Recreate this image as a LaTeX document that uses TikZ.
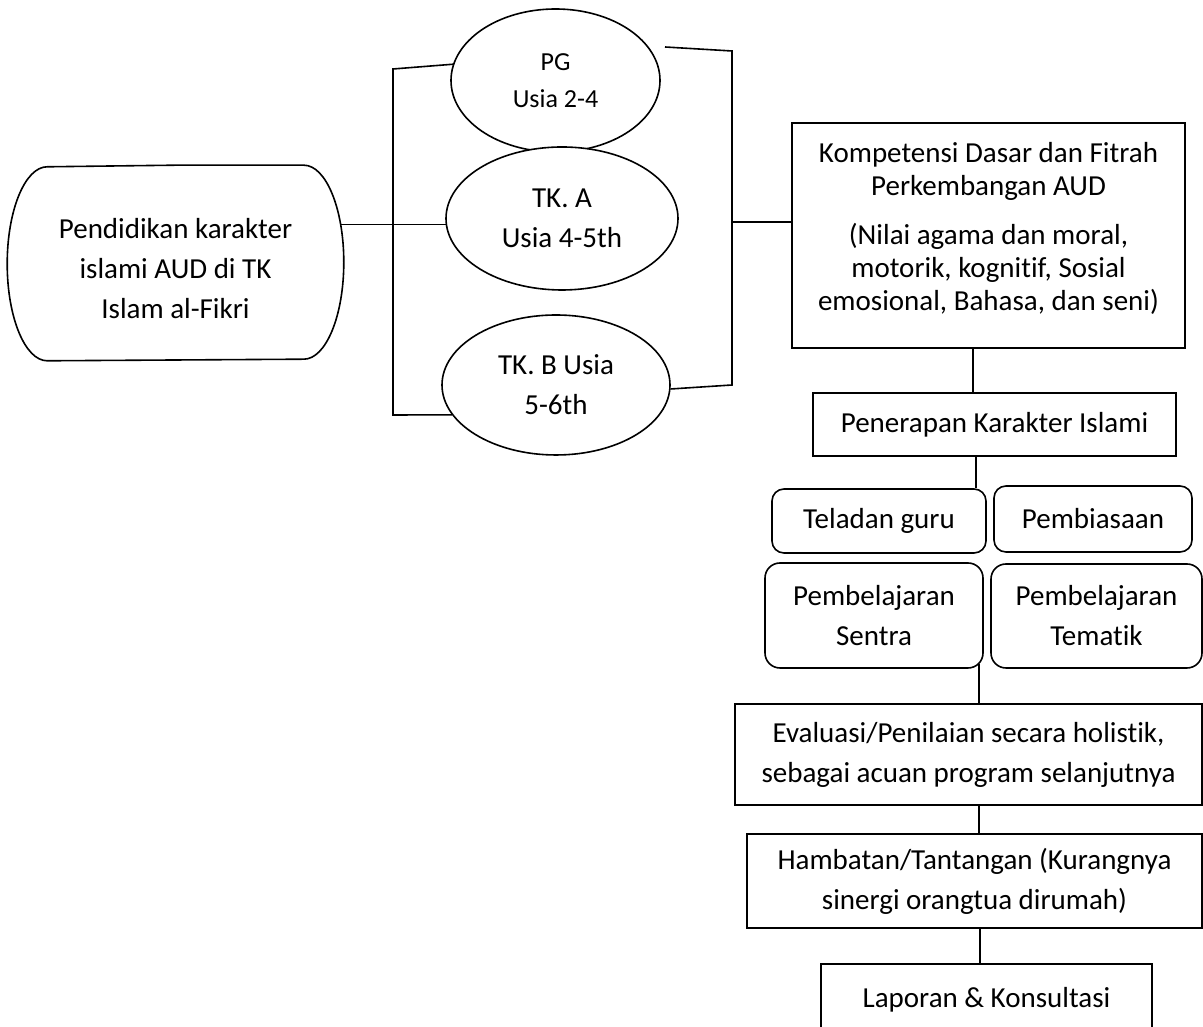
\documentclass[tikz,border=0pt]{standalone}
\usepackage{fontspec}
\setmainfont{Carlito}[Ligatures=NoCommon]
\usetikzlibrary{shapes.geometric}

\begin{document}
\begin{tikzpicture}[
  x=1pt, y=1pt,
  line width=1.6pt,
  txt/.style={font=\fontsize{29}{40}\selectfont, align=center, inner sep=0pt},
  box/.style={txt, rectangle, draw, fill=white},
  rbox/.style={box, rounded corners=12pt},
  oval/.style={txt, ellipse, draw, fill=white}
]
  \clip (0,0) rectangle (1203,1027);

  % main topic on the left
  \node[txt, minimum width=335, minimum height=194] (stem) at (175.5,764) {\rule{0pt}{31pt}Pendidikan karakter\\islami AUD di TK\\Islam al-Fikri};
  \draw (stem.north) -- ([xshift=-40]stem.north east)
    arc[start angle=90, end angle=-90, x radius=40, y radius=97]
    -- ([xshift=40]stem.south west)
    arc[start angle=270, end angle=90, x radius=40, y radius=97] -- cycle;

  % age groups
  \node[oval, font=\fontsize{26}{37}\selectfont, minimum width=209, minimum height=143] (pg) at (555.5,946.5) {PG\\Usia 2-4};
  \node[oval, minimum width=232, minimum height=143] (tka) at (562,808.5) {TK. A\\Usia 4-5th};
  \node[oval, minimum width=228, minimum height=140] (tkb) at (556,642) {TK. B Usia\\5-6th};

  % right column
  \node[box, font=\fontsize{29}{33}\selectfont, text depth=19pt, minimum width=393, minimum height=225] (komp) at (988.5,791.5) {Kompetensi Dasar dan Fitrah\\Perkembangan AUD\\[16pt](Nilai agama dan moral,\\motorik, kognitif, Sosial\\emosional, Bahasa, dan seni)};
  \node[box, minimum width=363, minimum height=63] (pener) at (994.5,602.5) {Penerapan Karakter Islami};
  \node[rbox, minimum width=214, minimum height=64] (teladan) at (879,506) {Teladan guru};
  \node[rbox, minimum width=198, minimum height=66] (biasa) at (1093,508) {Pembiasaan};
  \node[rbox, rounded corners=15pt, minimum width=218, minimum height=105] (sentra) at (874,411.5) {Pembelajaran\\Sentra};
  \node[rbox, rounded corners=15pt, minimum width=211, minimum height=104] (tematik) at (1096.5,411) {Pembelajaran\\Tematik};
  \node[box, minimum width=467, minimum height=101] (eval) at (968.5,272.5) {Evaluasi/Penilaian secara holistik,\\sebagai acuan program selanjutnya};
  \node[box, minimum width=455, minimum height=94] (hamb) at (974.5,146) {Hambatan/Tantangan (Kurangnya\\sinergi orangtua dirumah)};
  \node[box, minimum width=331, minimum height=72] (lapor) at (986.5,27) {Laporan \& Konsultasi};

  % brackets round the age groups
  \coordinate (lbT) at (393,958);
  \coordinate (lbB) at (393,612);
  \draw (pg.171) -- (lbT) -- (lbB) -- (tkb.196);
  \draw (tka.183) -- ([xshift=-4]stem.east |- tka.183);
  \coordinate (rbS) at (665,980);
  \coordinate (rbT) at (732,976);
  \coordinate (rbB) at (732,642);
  \coordinate (rbM) at (732,805);
  \draw (rbS) -- (rbT) -- (rbB) -- (tkb.358);
  \draw (rbM) -- (rbM -| komp.west);

  % flow down the right column
  \draw (komp.south) ++(-15.5,0) coordinate (c1) -- (c1 |- pener.north);
  \draw (pener.south) ++(-18.5,0) coordinate (c2) -- (c2 |- teladan.north);
  \draw (sentra.south east) ++(-5,5) coordinate (c3) -- (c3 |- eval.north);
  \draw (eval.south) ++(10.5,0) coordinate (c4) -- (c4 |- hamb.north);
  \draw (hamb.south) ++(5.5,0) coordinate (c5) -- (c5 |- lapor.north);
\end{tikzpicture}
\end{document}
